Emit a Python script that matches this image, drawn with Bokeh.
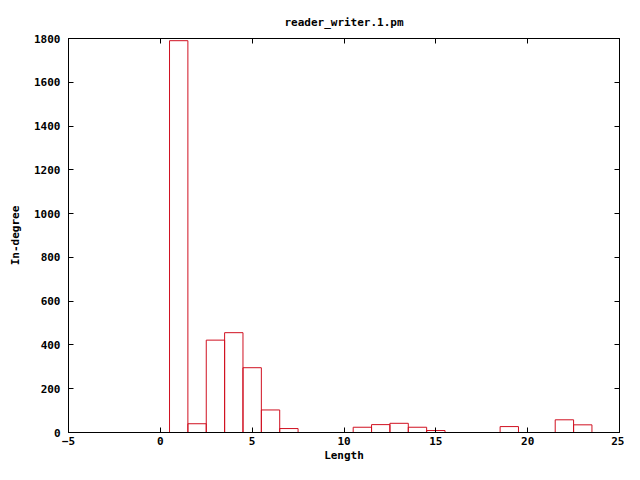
from bokeh.plotting import figure
from bokeh.models import LinearAxis, FixedTicker, Range1d
from bokeh.embed import file_html
from bokeh.resources import INLINE

# Data
lengths = [1, 2, 3, 4, 5, 6, 7, 11, 12, 13, 14, 15, 19, 22, 23]
indegree = [1790, 40, 422, 456, 296, 103, 18, 24, 36, 42, 24, 9, 27, 58, 35]
x_ticks = [-5, 0, 5, 10, 15, 20, 25]
y_ticks = [0, 200, 400, 600, 800, 1000, 1200, 1400, 1600, 1800]

FONT = "DejaVu Sans Mono"
FS = "11px"

p = figure(width=624, height=464, output_backend="svg", toolbar_location=None,
           x_range=Range1d(-5, 25), y_range=Range1d(0, 1800),
           title="reader_writer.1.pm",
           min_border_left=68, min_border_right=5, min_border_top=38, min_border_bottom=30)

p.vbar(x=lengths, top=indegree, width=1.0, bottom=0,
       fill_color="white", fill_alpha=0.0, line_color="#d01020", line_width=1)

p.grid.visible = False
p.outline_line_color = "black"
p.outline_line_width = 1
p.background_fill_color = "white"
p.border_fill_color = "white"

p.title.align = "center"
p.title.text_font = FONT
p.title.text_font_size = FS
p.title.text_font_style = "bold"
p.title.text_color = "black"
p.title.standoff = 19

for ax, ticks in ((p.xaxis[0], x_ticks), (p.yaxis[0], y_ticks)):
    ax.ticker = FixedTicker(ticks=ticks)
    ax.major_tick_in = 5
    ax.major_tick_out = 0
    ax.minor_tick_in = 0
    ax.minor_tick_out = 0
    ax.axis_line_color = "black"
    ax.major_label_text_font = FONT
    ax.major_label_text_font_size = FS
    ax.major_label_text_font_style = "bold"
    ax.major_label_text_color = "black"
    ax.axis_label_text_font = FONT
    ax.axis_label_text_font_size = FS
    ax.axis_label_text_font_style = "bold"
    ax.axis_label_text_color = "black"

p.xaxis[0].axis_label = "Length"
p.xaxis[0].major_label_standoff = 4
p.xaxis[0].axis_label_standoff = 1
p.yaxis[0].axis_label = "In-degree"
p.yaxis[0].major_label_standoff = 8
p.yaxis[0].axis_label_standoff = 9

# mirrored axes (ticks only)
top = LinearAxis(ticker=FixedTicker(ticks=x_ticks), major_tick_in=5, major_tick_out=0,
                 minor_tick_in=0, minor_tick_out=0,
                 major_label_overrides={t: "" for t in x_ticks},
                 major_label_standoff=0, axis_line_color="black")
right = LinearAxis(ticker=FixedTicker(ticks=y_ticks), major_tick_in=5, major_tick_out=0,
                   minor_tick_in=0, minor_tick_out=0,
                   major_label_overrides={t: "" for t in y_ticks},
                   major_label_standoff=0, axis_line_color="black")
p.add_layout(top, "above")
p.add_layout(right, "right")

open("out.html", "w").write(file_html(p, INLINE))
